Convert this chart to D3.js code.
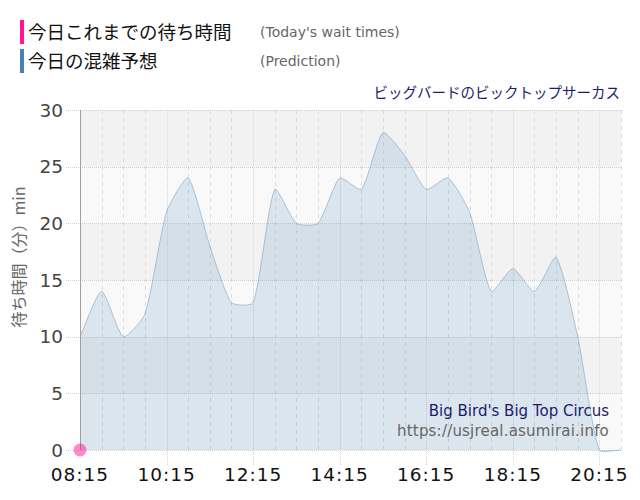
<!DOCTYPE html>
<html>
<head>
<meta charset="utf-8">
<script src="https://cdn.jsdelivr.net/npm/d3@7"></script>
<style>
  body { margin: 0; background: #fff; }
  svg { display: block; }
</style>
</head>
<body>
<svg id="chart" width="640" height="500"></svg>
<script>
// data
var predTimes = ["08:15","08:45","09:15","09:45","10:15","10:45","11:15","11:45","12:15","12:45",
                 "13:15","13:45","14:15","14:45","15:15","15:45","16:15","16:45","17:15","17:45",
                 "18:15","18:45","19:15","19:45","20:15","20:45"];
var predValues = [10,14,10,12,21,24,18,13,13,23,20,20,24,23,28,26,23,24,21,14,16,14,17,10,0,0];
var actualTimes = ["08:15"];
var actualValues = [0];
var xTickLabels = ["08:15","10:15","12:15","14:15","16:15","18:15","20:15"];
var yTicks = [0,5,10,15,20,25,30];

var jpFont = "'Noto Sans CJK JP', sans-serif";
var latFont = "'DejaVu Sans', Verdana, sans-serif";

function toMin(s) { var p = s.split(":"); return +p[0] * 60 + +p[1]; }

var svg = d3.select("#chart");
var pLeft = 80, pRight = 621, pTop = 110, pBottom = 450;

var x = d3.scaleLinear().domain([toMin("08:15"), toMin("20:45")]).range([pLeft, pRight]);
var y = d3.scaleLinear().domain([0, 30]).range([pBottom, pTop]);

// background bands
for (var i = 0; i < yTicks.length - 1; i++) {
  svg.append("rect")
    .attr("x", pLeft).attr("width", pRight - pLeft)
    .attr("y", y(yTicks[i + 1])).attr("height", y(yTicks[i]) - y(yTicks[i + 1]))
    .style("fill", (yTicks.length - 2 - i) % 2 == 0 ? "#f2f2f2" : "#f9f9f9");
}

// vertical grid, every 30 min
var halfHours = d3.range(toMin("08:15"), toMin("20:45") + 1, 30);
var majors = xTickLabels.map(toMin);
svg.append("g").selectAll("line")
  .data(halfHours.filter(function(d) { return majors.indexOf(d) < 0; }))
  .enter().append("line")
  .attr("x1", function(d) { return Math.round(x(d)) + 0.5; })
  .attr("x2", function(d) { return Math.round(x(d)) + 0.5; })
  .attr("y1", pTop).attr("y2", pBottom)
  .style("stroke", "#dcdcdc").style("stroke-dasharray", "4,4");

svg.append("g").selectAll("line")
  .data(majors.slice(1))
  .enter().append("line")
  .attr("x1", function(d) { return Math.round(x(d)) + 0.5; })
  .attr("x2", function(d) { return Math.round(x(d)) + 0.5; })
  .attr("y1", pTop).attr("y2", pBottom + 15)
  .style("stroke", "#d4d4d4").style("stroke-dasharray", "1,1");

// horizontal grid
svg.append("g").selectAll("line")
  .data(yTicks)
  .enter().append("line")
  .attr("x1", pLeft - 14).attr("x2", pRight)
  .attr("y1", function(d) { return Math.round(y(d)) + 0.5; })
  .attr("y2", function(d) { return Math.round(y(d)) + 0.5; })
  .style("stroke", "#cfcfcf").style("stroke-dasharray", "1,1");

// area with chart.js style bezier
var pts = predTimes.map(function(t, i) { return [x(toMin(t)), y(predValues[i])]; });
var tension = 0.2;
var ctrl = pts.map(function(p, i) {
  var prev = pts[i - 1] || p, next = pts[i + 1] || p;
  var d01 = Math.hypot(p[0] - prev[0], p[1] - prev[1]);
  var d12 = Math.hypot(next[0] - p[0], next[1] - p[1]);
  var s01 = d01 / (d01 + d12) || 0, s12 = d12 / (d01 + d12) || 0;
  var fa = tension * s01, fb = tension * s12;
  return {
    prev: [p[0] - fa * (next[0] - prev[0]), p[1] - fa * (next[1] - prev[1])],
    next: [p[0] + fb * (next[0] - prev[0]), p[1] + fb * (next[1] - prev[1])]
  };
});
var line = d3.path();
line.moveTo(pts[0][0], pts[0][1]);
for (var j = 1; j < pts.length; j++) {
  line.bezierCurveTo(ctrl[j - 1].next[0], ctrl[j - 1].next[1], ctrl[j].prev[0], ctrl[j].prev[1], pts[j][0], pts[j][1]);
}
var lineStr = line.toString();
svg.append("path")
  .attr("d", lineStr + "L" + pts[pts.length - 1][0] + "," + y(0) + "L" + pts[0][0] + "," + y(0) + "Z")
  .style("fill", "rgba(70,130,180,0.17)");
svg.append("path")
  .attr("d", lineStr)
  .style("fill", "none").style("stroke", "rgba(70,130,180,0.4)").style("stroke-width", 1);

// left axis line
svg.append("line")
  .attr("x1", pLeft + 0.5).attr("x2", pLeft + 0.5).attr("y1", pTop).attr("y2", pBottom)
  .style("stroke", "#a0a0a0");

// y labels
svg.append("g").selectAll("text")
  .data(yTicks)
  .enter().append("text")
  .attr("x", 63).attr("y", function(d) { return y(d); })
  .attr("dy", "0.36em")
  .attr("text-anchor", "end")
  .style("font-family", latFont).style("font-size", "18.5px").style("fill", "#444")
  .text(function(d) { return d; });

// x labels
svg.append("g").selectAll("text")
  .data(xTickLabels)
  .enter().append("text")
  .attr("x", function(d) { return x(toMin(d)); })
  .attr("y", 481)
  .attr("text-anchor", "middle")
  .style("font-family", latFont).style("font-size", "18.5px").style("letter-spacing", "1px").style("fill", "#111")
  .text(function(d) { return d; });

// y title
svg.append("text")
  .attr("transform", "translate(25,257) rotate(-90)")
  .attr("text-anchor", "middle")
  .style("font-family", jpFont).style("font-size", "16px").style("fill", "#666")
  .text("待ち時間（分）min");

// actual point
svg.selectAll("circle.actual")
  .data(actualTimes)
  .enter().append("circle")
  .attr("class", "actual")
  .attr("cx", function(d) { return x(toMin(d)); })
  .attr("cy", function(d, i) { return y(actualValues[i]); })
  .attr("r", 6.5)
  .style("fill", "rgba(255,20,147,0.5)");

// legend
svg.append("rect").attr("x", 20).attr("y", 20).attr("width", 4).attr("height", 24).style("fill", "#ff1493");
svg.append("rect").attr("x", 20).attr("y", 49).attr("width", 4).attr("height", 24).style("fill", "#4682b4");
svg.append("text").attr("x", 28).attr("y", 39).text("今日これまでの待ち時間")
  .style("font-family", jpFont).style("font-size", "18.5px").style("fill", "#111");
svg.append("text").attr("x", 28).attr("y", 68).text("今日の混雑予想")
  .style("font-family", jpFont).style("font-size", "18.5px").style("fill", "#111");
svg.append("text").attr("x", 260).attr("y", 37).text("(Today's wait times)")
  .style("font-family", latFont).style("font-size", "14px").style("fill", "#666");
svg.append("text").attr("x", 260).attr("y", 66).text("(Prediction)")
  .style("font-family", latFont).style("font-size", "14px").style("fill", "#666");

svg.append("text").attr("x", 620).attr("y", 98).attr("text-anchor", "end")
  .text("ビッグバードのビックトップサーカス")
  .style("font-family", jpFont).style("font-size", "14.5px").style("fill", "#1c1c6b");

svg.append("text").attr("x", 609).attr("y", 416).attr("text-anchor", "end")
  .text("Big Bird's Big Top Circus")
  .style("font-family", latFont).style("font-size", "15px").style("fill", "#1c1c6b");
svg.append("text").attr("x", 609).attr("y", 436).attr("text-anchor", "end")
  .text("https://usjreal.asumirai.info")
  .style("font-family", latFont).style("font-size", "15px").style("letter-spacing", "0.2px").style("fill", "#666");
</script>
</body>
</html>
